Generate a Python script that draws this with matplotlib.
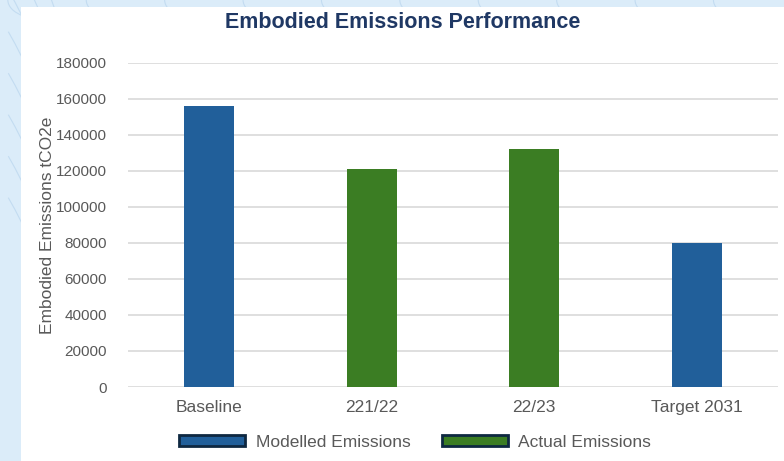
import numpy as np
import matplotlib
matplotlib.use('Agg')
import matplotlib.pyplot as plt
from matplotlib.patches import Rectangle, Patch, Arc

plt.rcParams['font.family'] = ['Liberation Sans', 'DejaVu Sans']

categories = ['Baseline', '221/22', '22/23', 'Target 2031']
emissions = [156000, 121000, 132000, 80000]
kind = ['Modelled', 'Actual', 'Actual', 'Modelled']
yticks = [0, 20000, 40000, 60000, 80000, 100000, 120000, 140000, 160000, 180000]

blue = '#215f9a'
green = '#3b7d23'
edge = '#0e2841'
colors = [blue if k == 'Modelled' else green for k in kind]

fig = plt.figure(figsize=[7.84, 4.61], dpi=100)
fig.patch.set_facecolor('#dbecf9')

# faint background swirls behind the panel
for i in range(8):
    fig.patches.append(Arc((0.0, 0.45 + 0.09 * i), 0.09, 0.6, angle=15,
                           theta1=-70, theta2=70, transform=fig.transFigure,
                           color='#c3dcf1', lw=0.8, zorder=-3))
for i in range(10):
    fig.patches.append(Arc((0.05 + 0.1 * i, 1.0), 0.08, 0.08, angle=0,
                           theta1=180, theta2=300, transform=fig.transFigure,
                           color='#c3dcf1', lw=0.8, zorder=-3))

# white chart panel
fig.patches.append(Rectangle((21 / 784, 0), 1, 1 - 7 / 461, transform=fig.transFigure,
                             facecolor='white', edgecolor='none', zorder=-1))

ax = fig.add_axes([128 / 784, (461 - 387) / 461, 650 / 784, 324 / 461])
ax.set_facecolor('white')
x = np.arange(len(categories))
ax.bar(x, emissions, width=0.31, color=colors, zorder=3)

ax.set_xlim(-0.5, 3.5)
ax.set_ylim(0, 180000)
ax.set_yticks(yticks)
ax.set_yticklabels([str(t) for t in yticks])
ax.set_xticks(x)
ax.set_xticklabels(categories)
ax.grid(axis='y', color='#d9d9d9', lw=1.2, zorder=0)
for s in ax.spines.values():
    s.set_visible(False)
ax.tick_params(axis='y', length=0, pad=15, labelsize=11, labelcolor='#595959')
ax.tick_params(axis='x', length=0, pad=9, labelsize=12.5, labelcolor='#595959')
ax.set_ylabel('Embodied Emissions tCO2e', fontsize=12.5, color='#595959')
ax.yaxis.set_label_coords(-0.113, 0.5)

fig.text(403 / 784, 1 - 23 / 461, 'Embodied Emissions Performance', ha='center', va='center',
         fontsize=15.5, fontweight='bold', color='#1f3864')

handles = [Patch(facecolor=blue, edgecolor=edge, lw=2, label='Modelled Emissions'),
           Patch(facecolor=green, edgecolor=edge, lw=2, label='Actual Emissions')]
leg = fig.legend(handles=handles, loc='center', bbox_to_anchor=(415 / 784, 1 - 442 / 461),
                 ncol=2, frameon=False, handlelength=3.8, handleheight=0.55,
                 columnspacing=1.8, handletextpad=0.6, fontsize=12.5)
for t in leg.get_texts():
    t.set_color('#595959')

plt.savefig('out.png', dpi=100, facecolor=fig.get_facecolor())
